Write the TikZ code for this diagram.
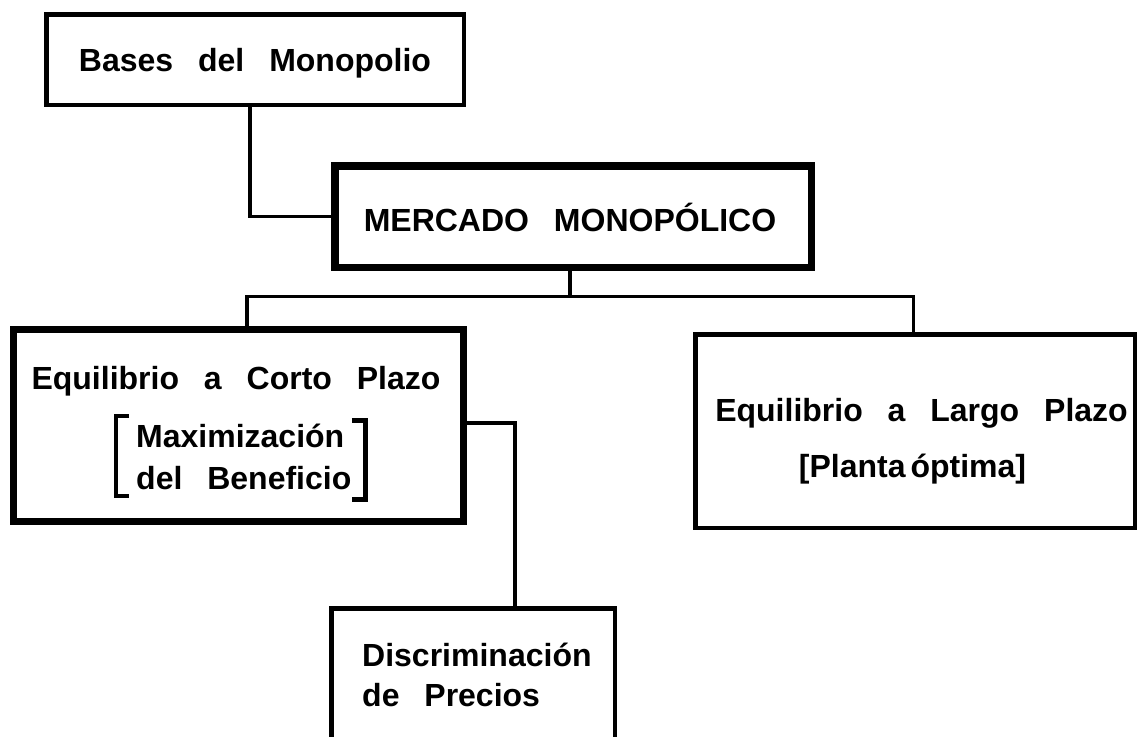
\documentclass[tikz,border=0pt]{standalone}
\usepackage{fontspec}
\setmainfont{Liberation Sans}[WordSpace=2.8]
\begin{document}
\begin{tikzpicture}[x=1pt,y=-1pt,
  thinbox/.style={draw=black, line width=4.5pt, inner sep=0pt},
  thickbox/.style={draw=black, line width=7.5pt, inner sep=0pt},
  conn/.style={draw=black, line width=3.5pt},
  lbl/.style={font=\fontsize{32}{38}\selectfont\bfseries, inner sep=0pt, anchor=base},
  lbll/.style={lbl, anchor=base west}]
\useasboundingbox (0,0) rectangle (1139,736);
\fill[white] (0,0) rectangle (1139,736);
\clip (0,0) rectangle (1139,736);

% boxes
\node[thinbox, minimum width=417.5pt, minimum height=90.5pt] (b1) at (255,59.5) {};
\node[thickbox, minimum width=476.5pt, minimum height=101.5pt] (b2) at (573,216.5) {};
\node[thickbox, line width=7pt, minimum width=450pt, minimum height=192pt] (b3) at (238.5,425.5) {};
\node[thinbox, minimum width=439.5pt, minimum height=193.5pt] (b4) at (915,431) {};
\node[thinbox, minimum width=283.5pt, minimum height=151.75pt] (b5) at (473,684.25) {};

% texts
\node[lbl] (t1) at (255,71) {Bases del Monopolio};
\node[lbl] (t2) at (570,231) {MERCADO MONOPÓLICO};
\node[lbl] (t3a) at (236,389) {Equilibrio a Corto Plazo};
\node[lbll] (t3b) at (136,447) {Maximización};
\node[lbll] (t3c) at (136,489) {del Beneficio};
\node[lbl] (t4a) at (921.5,421) {Equilibrio a Largo Plazo};
\node[lbl] (t4b) at (912.5,477) {[Planta\hspace{5pt}óptima]};
\node[lbll] (t5a) at (362,666) {Discriminación};
\node[lbll] (t5b) at (362,706) {de Precios};

% brackets
\draw[line width=3.5pt, line join=miter] (129,415.8) -- (115.8,415.8) -- (115.8,495.8) -- (129,495.8);
\draw[line width=5pt, line join=miter] (351.8,420.5) -- (365.3,420.5) -- (365.3,499.8) -- (351.8,499.8);

% connectors
\coordinate (bus) at (570,296.5);
\draw[conn] ([xshift=-5pt]b1.south) |- (b2.west);
\draw[conn] ([xshift=-3pt]b2.south) -- (bus);
\draw[conn] ([xshift=8.5pt]b3.north) |- (bus) -| ([xshift=-1.5pt]b4.north);
\draw[conn] ([yshift=2.5pt]b3.east) -| ([xshift=42pt]b5.north);
\end{tikzpicture}
\end{document}
